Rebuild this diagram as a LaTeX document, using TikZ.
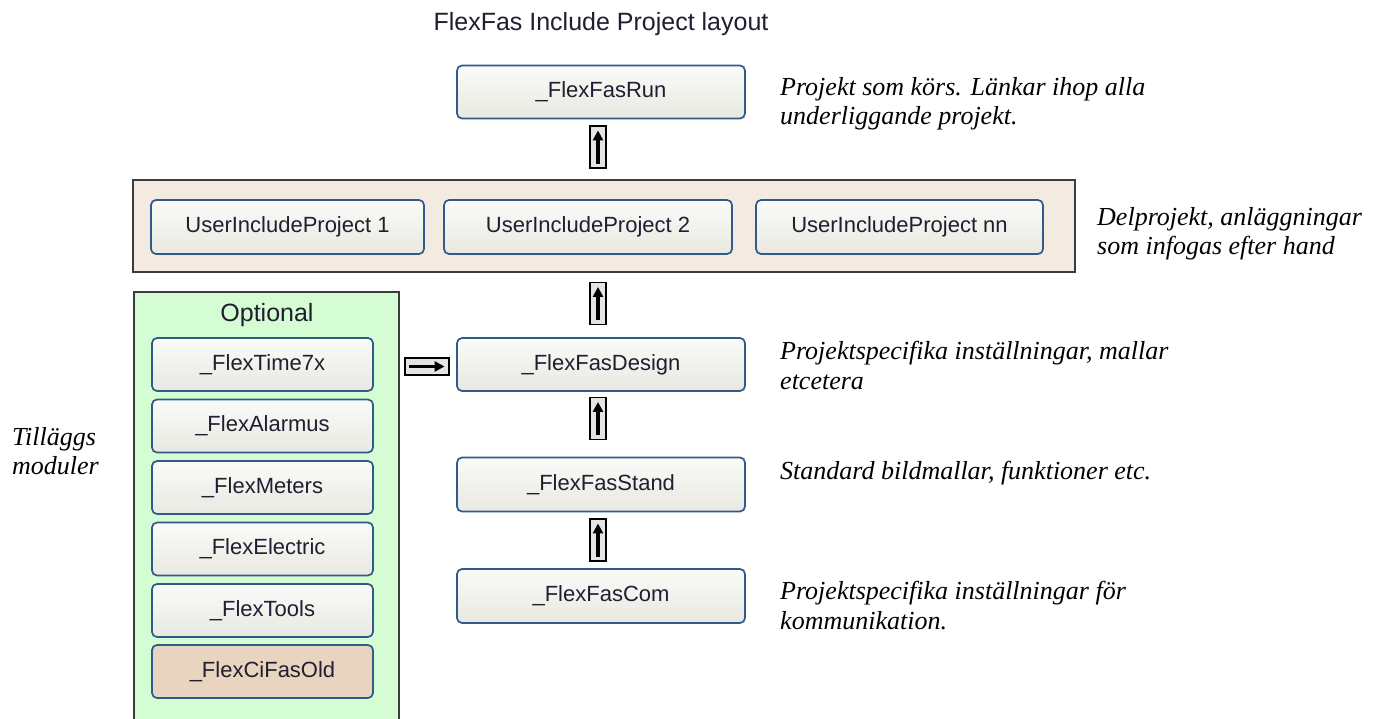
\documentclass[tikz,border=0pt]{standalone}
\usepackage{fontspec}
\setmainfont{Liberation Serif}
\setsansfont{Liberation Sans}
\usetikzlibrary{arrows.meta,calc}
\definecolor{bxborder}{RGB}{48,90,135}
\definecolor{bxtop}{RGB}{250,250,248}
\definecolor{bxbot}{RGB}{233,233,226}
\definecolor{bxtext}{RGB}{32,30,48}
\definecolor{beigepanel}{RGB}{243,235,226}
\definecolor{greenpanel}{RGB}{212,253,212}
\definecolor{oldfill}{RGB}{233,213,191}
\definecolor{panelline}{RGB}{60,60,60}
\definecolor{iconfill}{RGB}{228,228,228}
\begin{document}
\begin{tikzpicture}[x=1pt,y=-1pt,
  modbox/.style={draw=bxborder, line width=1.7pt, rounded corners=5pt,
    top color=bxtop, bottom color=bxbot, text=bxtext,
    font=\sffamily\fontsize{22}{25}\selectfont, inner sep=0pt,
    minimum height=53pt},
  oldbox/.style={modbox, top color=oldfill, bottom color=oldfill},
  panel/.style={draw=panelline, line width=1.8pt, inner sep=0pt},
  vicon/.style={draw=black, line width=1.1pt, fill=iconfill, inner sep=0pt,
    minimum width=16pt, minimum height=42pt},
  hicon/.style={draw=black, line width=1.1pt, fill=iconfill, inner sep=0pt,
    minimum width=44pt, minimum height=17pt},
  iconarrow/.style={line width=3.4pt, -{Triangle[width=10pt,length=10pt]}},
  note/.style={font=\itshape\fontsize{26}{29.5}\selectfont, align=left,
    anchor=north west, inner sep=0pt},
]
\useasboundingbox (0,0) rectangle (1387,718);
\fill[white] (0,0) rectangle (1387,718);

% title
\node[font=\sffamily\fontsize{25}{28}\selectfont, text=bxtext, anchor=base] (title) at (601,30) {FlexFas Include Project layout};

% panels
\node[panel, fill=beigepanel, minimum width=942pt, minimum height=92pt] (incpanel) at (604,226) {};
\node[panel, fill=greenpanel, minimum width=265pt, minimum height=430pt] (optpanel) at (266.5,507) {};

% main column
\node[modbox, minimum width=288pt] (run) at (601,92) {\_FlexFasRun};
\node[modbox, minimum width=273pt, minimum height=54pt] (uip1) at (287.5,227) {UserIncludeProject 1};
\node[modbox, minimum width=288pt, minimum height=54pt] (uip2) at (588,227) {UserIncludeProject 2};
\node[modbox, minimum width=287pt, minimum height=54pt] (uipnn) at (899.5,227) {UserIncludeProject nn};
\node[modbox, minimum width=288pt] (design) at (601,364.5) {\_FlexFasDesign};
\node[modbox, minimum width=288pt, minimum height=54pt] (stand) at (601,484.5) {\_FlexFasStand};
\node[modbox, minimum width=288pt, minimum height=54pt] (com) at (601,596) {\_FlexFasCom};

% optional modules
\node[font=\sffamily\fontsize{25}{28}\selectfont, text=bxtext] (optlabel) at (267,315) {Optional};
\node[modbox, minimum width=221pt] (time) at (262.5,364.5) {\_FlexTime7x};
\node[modbox, minimum width=221pt] (alarm) at (262.5,426) {\_FlexAlarmus};
\node[modbox, minimum width=221pt] (meters) at (262.5,487.5) {\_FlexMeters};
\node[modbox, minimum width=221pt] (electric) at (262.5,549) {\_FlexElectric};
\node[modbox, minimum width=221pt] (tools) at (262.5,610.5) {\_FlexTools};
\node[oldbox, minimum width=221pt] (old) at (262.5,671.5) {\_FlexCiFasOld};

% arrow icons
\node[vicon] (a1) at (598,147) {};
\node[vicon] (a2) at (598,303.5) {};
\node[vicon] (a3) at (598,418.5) {};
\node[vicon] (a4) at (598,540) {};
\node[hicon] (a5) at (427,366.5) {};
\foreach \a in {a1,a2,a3,a4}
  \draw[iconarrow] ($(\a.south)+(0,-5)$) -- ($(\a.north)+(0,5)$);
\draw[iconarrow] ($(a5.west)+(5,0)$) -- ($(a5.east)+(-5,0)$);

% notes
\node[note] (nrun) at (780,77) {Projekt som körs. Länkar ihop alla\\underliggande projekt.};
\node[note] (ninc) at (1097,207) {Delprojekt, anläggningar\\som infogas efter hand};
\node[note] (ndesign) at (780,341) {Projektspecifika inställningar, mallar\\etcetera};
\node[note] (nstand) at (780,461) {Standard bildmallar, funktioner etc.};
\node[note] (ncom) at (780,581) {Projektspecifika inställningar för\\kommunikation.};
\node[note] (nadd) at (12,427) {Tilläggs\\moduler};
\end{tikzpicture}
\end{document}
